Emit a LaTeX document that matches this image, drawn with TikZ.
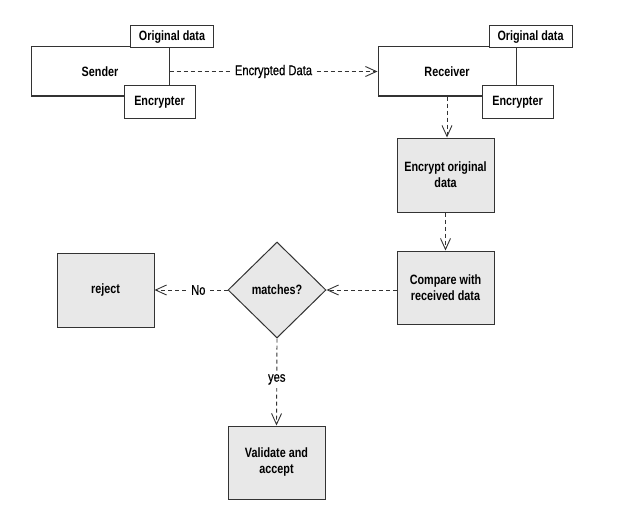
\documentclass[tikz,border=0pt]{standalone}
\usepackage{fontspec}
\setmainfont{Liberation Sans}[FakeStretch=0.8]
\newfontfamily\lblfont{Liberation Sans}[FakeStretch=0.8,FakeBold=0.6]
\usetikzlibrary{shapes.geometric,arrows.meta}
\definecolor{boxgray}{HTML}{E8E8E8}
\definecolor{linegray}{HTML}{333333}
\tikzset{
  base/.style={draw=linegray,line width=1pt,inner sep=0pt,align=center,font=\fontsize{13.5}{16}\selectfont\bfseries},
  whitebox/.style={base,rectangle,fill=white},
  graybox/.style={base,rectangle,fill=boxgray,minimum width=97pt,minimum height=74pt},
  decision/.style={base,diamond,fill=boxgray,minimum width=98pt,minimum height=96pt,aspect=1},
  flow/.style={draw=linegray,line width=0.9pt,dash pattern=on 4pt off 3pt,-{Straight Barb[length=11pt,width=10pt,line width=0.9pt]}},
  lbl/.style={fill=white,inner sep=3pt,font=\lblfont\fontsize{14}{16}\selectfont}
}
\begin{document}
\begin{tikzpicture}[x=1pt,y=-1pt]
\useasboundingbox (0,0) rectangle (617,508);
% sender group
\node[whitebox,minimum width=138pt,minimum height=49pt] (sender) at (100,71.5) {Sender};
\node[whitebox,minimum width=83pt,minimum height=22pt] (sorig) at (172,37) {Original data};
\node[whitebox,minimum width=71pt,minimum height=32pt] (senc) at (159.5,102) {Encrypter};
% receiver group
\node[whitebox,minimum width=138pt,minimum height=49pt] (receiver) at (447,71.5) {Receiver};
\node[whitebox,minimum width=83pt,minimum height=22pt] (rorig) at (530.5,37) {Original data};
\node[whitebox,minimum width=71pt,minimum height=32pt] (renc) at (517.5,102) {Encrypter};
% flow boxes
\node[graybox] (encrypt) at (445.5,175) {Encrypt original\\data};
\node[graybox,minimum height=73pt] (compare) at (445.5,287.5) {Compare with\\received data};
\node[decision] (match) at (277,290) {matches?};
\node[graybox] (reject) at (105.5,290) {reject};
\node[graybox,minimum height=73pt] (validate) at (276.5,462.5) {Validate and\\accept};
% connectors
\draw[flow] (sender.east) -- node[lbl] {Encrypted Data} (receiver.west);
\draw[flow] (receiver.south) -- (receiver.south |- encrypt.north);
\draw[flow] (encrypt.south) -- (compare.north);
\draw[flow] (compare.west |- match.east) -- (match.east);
\draw[flow] (match.west) -- node[lbl,pos=0.4] {No} (reject.east);
\draw[flow] (match.south) -- node[lbl,pos=0.47] {yes} (validate.north);
\end{tikzpicture}
\end{document}
